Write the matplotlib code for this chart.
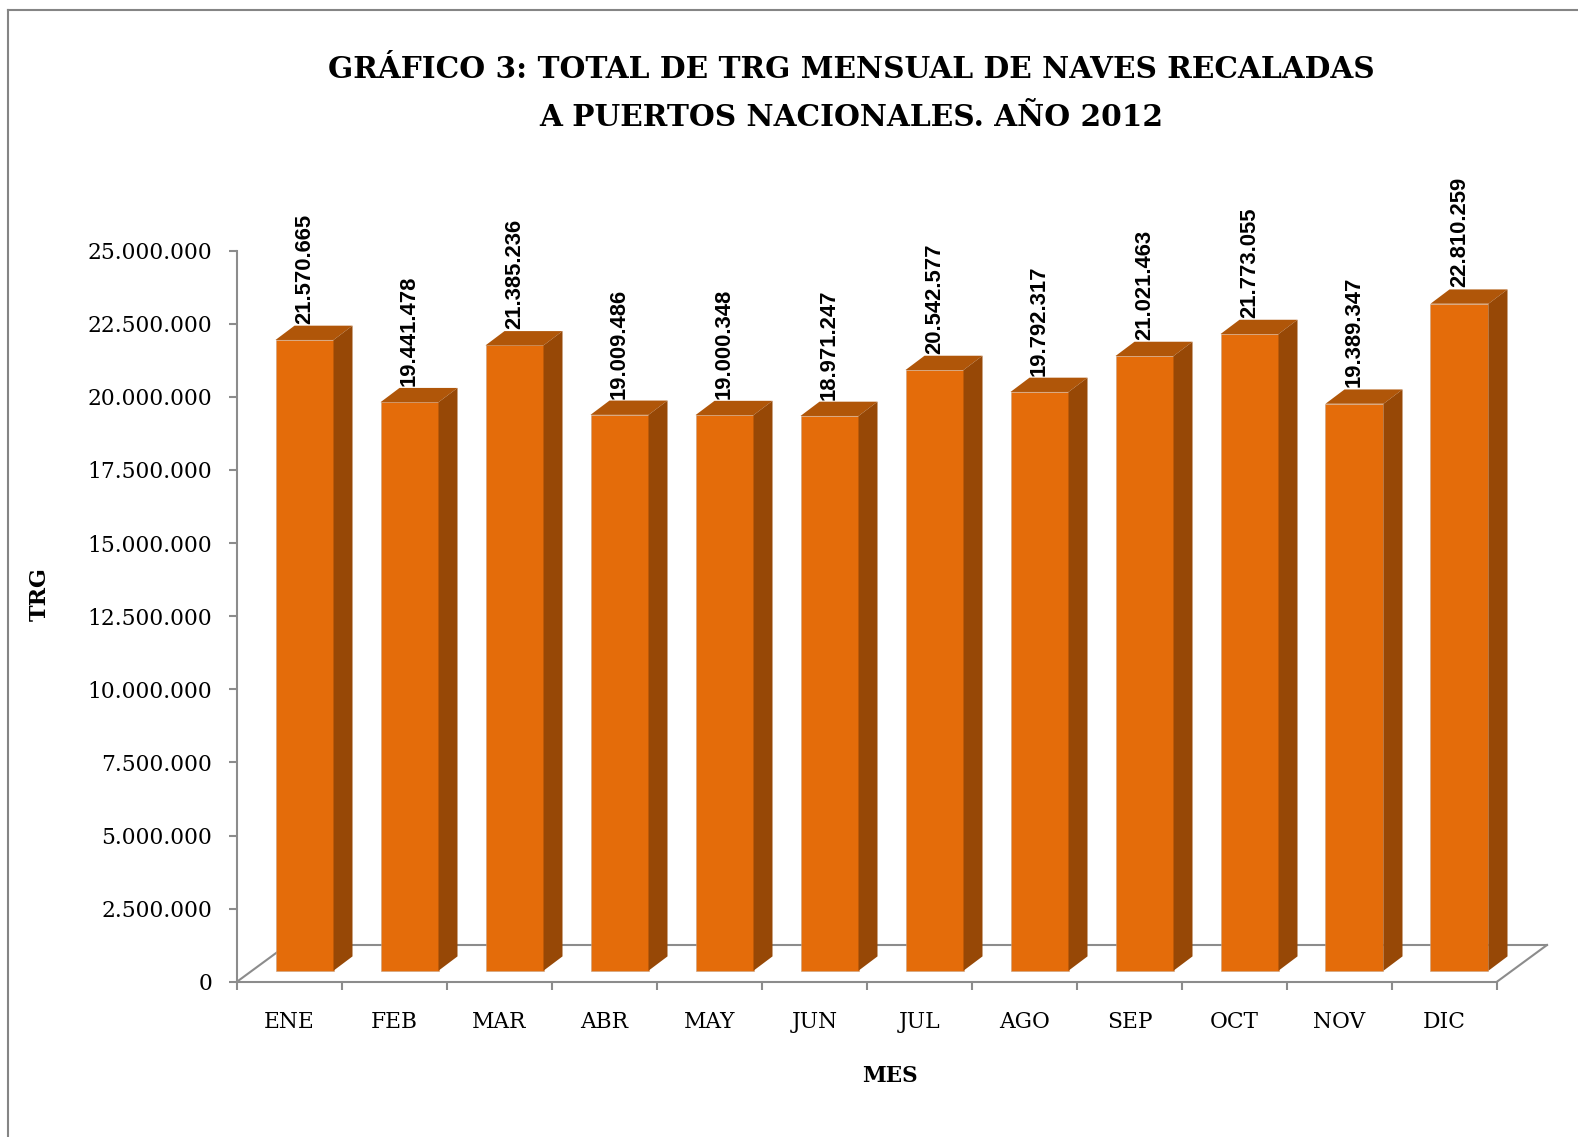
import matplotlib
matplotlib.use('Agg')
import matplotlib.pyplot as plt
from matplotlib.patches import Polygon
from matplotlib.lines import Line2D

meses = ['ENE', 'FEB', 'MAR', 'ABR', 'MAY', 'JUN', 'JUL', 'AGO', 'SEP', 'OCT', 'NOV', 'DIC']
trg = [21570665, 19441478, 21385236, 19009486, 19000348, 18971247,
       20542577, 19792317, 21021463, 21773055, 19389347, 22810259]
yticks = [0, 2500000, 5000000, 7500000, 10000000, 12500000,
          15000000, 17500000, 20000000, 22500000, 25000000]


def miles(v):
    return '{:,}'.format(int(v)).replace(',', '.')


W, H = 1578, 1137
fig = plt.figure(figsize=(W / 100, H / 100), dpi=100)
ax = fig.add_axes([237 / W, 1 - 981.7 / H, 1260 / W, 731 / H])
ax.set_xlim(0, 12)
ax.set_ylim(0, 25000000)

# pixel sizes -> data units
px_x = 1 / 105.0
px_y = 25000000 / 731.0

gris = '#8c8c8c'
frente = '#e46c0a'
techo = '#b05609'
lado = '#974806'

# floor of the 3d box
fdx, fdy = 50 * px_x, 36.7 * px_y
ax.add_line(Line2D([0, fdx], [0, fdy], color=gris, lw=1.5, zorder=1, clip_on=False))
ax.add_line(Line2D([fdx, 12 + fdx], [fdy, fdy], color=gris, lw=1.5, zorder=1, clip_on=False))
ax.add_line(Line2D([12, 12 + fdx], [0, fdy], color=gris, lw=1.5, zorder=1, clip_on=False))

# bars
base = 11 * px_y
shift = 15 * px_x
ancho = 58 * px_x
bdx, bdy = 19 * px_x, 14.3 * px_y
centros = [i + 0.5 + shift for i in range(len(meses))]
ax.bar(centros, trg, width=ancho, bottom=base, color=frente, edgecolor='#c8a080',
       linewidth=0.4, zorder=3)
for c, v in zip(centros, trg):
    l, r = c - ancho / 2, c + ancho / 2
    top = base + v
    ax.add_patch(Polygon([(l, top), (r, top), (r + bdx, top + bdy), (l + bdx, top + bdy)],
                         closed=True, facecolor=techo, edgecolor='none', zorder=3, clip_on=False))
    ax.add_patch(Polygon([(r, base), (r + bdx, base + bdy), (r + bdx, top + bdy), (r, top)],
                         closed=True, facecolor=lado, edgecolor='none', zorder=3, clip_on=False))
    ax.text(c, top + bdy + 2 * px_y, miles(v), rotation=90, ha='center', va='bottom',
            fontsize=15.8, fontweight='bold', family='Liberation Sans', color='black',
            clip_on=False, zorder=4)

# axes styling
for s in ['top', 'right']:
    ax.spines[s].set_visible(False)
for s in ['left', 'bottom']:
    ax.spines[s].set_color(gris)
    ax.spines[s].set_linewidth(1.5)

ax.set_yticks(yticks)
ax.set_yticklabels([miles(v) for v in yticks], fontsize=15.7, family='DejaVu Serif')
ax.tick_params(axis='y', direction='out', length=6, width=1.5, color=gris, pad=12)

ax.set_xticks(range(13))
ax.set_xticklabels([])
ax.tick_params(axis='x', which='major', direction='out', length=6, width=1.5, color=gris)
ax.set_xticks([i + 0.5 for i in range(len(meses))], minor=True)
ax.set_xticklabels(meses, minor=True, fontsize=15.7, family='DejaVu Serif')
ax.tick_params(axis='x', which='minor', length=0, pad=21)

# titles and axis names
fig.text(851 / W, 1 - 70 / H, 'GRÁFICO 3: TOTAL DE TRG MENSUAL DE NAVES RECALADAS',
         ha='center', va='center', fontsize=21.3, fontweight='bold', family='DejaVu Serif')
fig.text(851 / W, 1 - 117 / H, 'A PUERTOS NACIONALES. AÑO 2012',
         ha='center', va='center', fontsize=21.3, fontweight='bold', family='DejaVu Serif')
fig.text(40 / W, 1 - 594 / H, 'TRG', rotation=90, ha='center', va='center',
         fontsize=16, fontweight='bold', family='DejaVu Serif')
fig.text(890 / W, 1 - 1076 / H, 'MES', ha='center', va='center',
         fontsize=15.5, fontweight='bold', family='DejaVu Serif')

# chart frame (only left and top edges show)
fig.add_artist(Line2D([8 / W, 8 / W], [0, 1 - 10 / H], color='#858585', lw=1.5))
fig.add_artist(Line2D([8 / W, 1], [1 - 10 / H, 1 - 10 / H], color='#858585', lw=1.5))

fig.savefig('out.png', dpi=100)
